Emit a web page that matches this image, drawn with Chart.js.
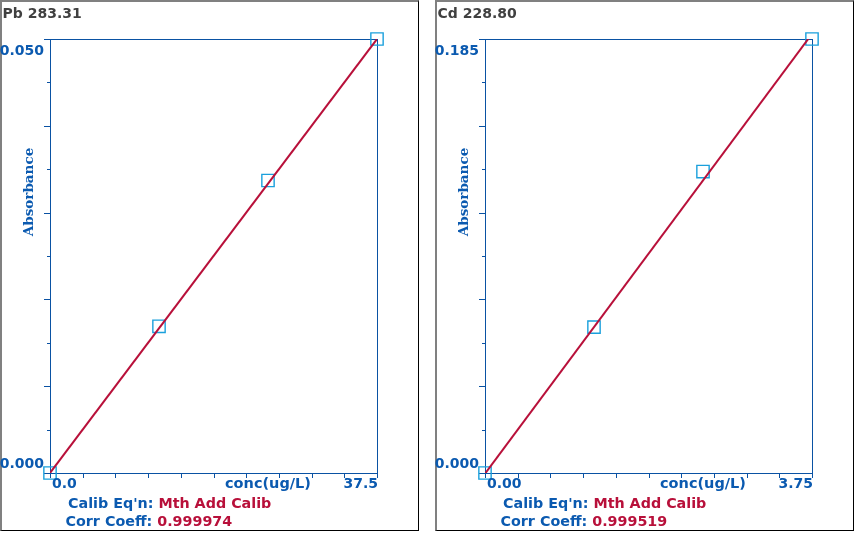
<!DOCTYPE html>
<html>
<head>
<meta charset="utf-8">
<script src="https://cdn.jsdelivr.net/npm/chart.js@4.4.1/dist/chart.umd.min.js"></script>
<style>
  body { margin: 0; background: #fff; width: 858px; height: 533px; position: relative; overflow: hidden; }
  .panel { position: absolute; top: 0; width: 419px; height: 531px; box-sizing: border-box;
           border-left: 2px solid #808080; border-top: 2px solid #808080;
           border-right: 1px solid #000; border-bottom: 1px solid #000; }
  canvas { position: absolute; top: 0; }
</style>
</head>
<body>
<div class="panel" style="left:0"></div>
<div class="panel" style="left:435px"></div>
<canvas id="chart-pb" width="418" height="530" style="left:0"></canvas>
<canvas id="chart-cd" width="418" height="530" style="left:435px"></canvas>
<script>
// Pb 283.31 calibration (standard additions)
const pbConc = [0, 12.5, 25, 37.5];
const pbAbs = [0.0000, 0.0169, 0.0337, 0.0500];
const pbFitConc = [0, 37.5];
const pbFitAbs = [0.0000, 0.0500];
const pbRangeX = [0, 37.5];
const pbRangeY = [0, 0.050];
const pbTickX = ['0.0', '37.5'];
const pbTickY = ['0.000', '0.050'];

// Cd 228.80 calibration
const cdConc = [0, 1.25, 2.5, 3.75];
const cdAbs = [0.0000, 0.0622, 0.1285, 0.1850];
const cdFitConc = [0, 3.75];
const cdFitAbs = [-0.0003, 0.1872];
const cdRangeX = [0, 3.75];
const cdRangeY = [0, 0.185];
const cdTickX = ['0.00', '3.75'];
const cdTickY = ['0.000', '0.185'];

const AXIS = '#0a52a3';
const LABEL = '#0b5ab0';
const RED = '#b8103a';
const MARK = '#1aa0dc';

// frame, tick marks and texts drawn through the chart's own scales
const calibFrame = {
    id: 'calibFrame',
    beforeDatasetsDraw(chart) {
        const {ctx, chartArea: a, scales: {x, y}} = chart;
        ctx.save();
        ctx.strokeStyle = AXIS;
        ctx.lineWidth = 1;
        ctx.strokeRect(a.left + 0.5, a.top + 0.5, a.right - a.left, a.bottom - a.top);
        ctx.beginPath();
        for (let i = 0; i <= 10; i++) {
            const px = Math.round(x.getPixelForValue(x.min + (x.max - x.min) * i / 10)) + 0.5;
            ctx.moveTo(px, a.bottom);
            ctx.lineTo(px, a.bottom + 5);
        }
        for (let i = 0; i <= 10; i++) {
            const py = Math.round(y.getPixelForValue(y.min + (y.max - y.min) * i / 10)) + 0.5;
            const len = i % 2 ? 3 : 6;
            ctx.moveTo(a.left - len, py);
            ctx.lineTo(a.left, py);
        }
        ctx.stroke();
        ctx.restore();
    },
    afterDraw(chart, args, o) {
        const {ctx, chartArea: a} = chart;
        ctx.save();
        ctx.textBaseline = 'alphabetic';

        ctx.fillStyle = '#404040';
        ctx.font = 'bold 14px "DejaVu Sans"';
        ctx.textAlign = 'left';
        ctx.fillText(o.title, 2.5, 18);

        ctx.fillStyle = LABEL;
        ctx.font = 'bold 14px "DejaVu Sans"';
        ctx.textAlign = 'right';
        ctx.fillText(o.tickY[1], a.left - 6, a.top + 16);
        ctx.fillText(o.tickY[0], a.left - 6, a.bottom - 5);

        ctx.textAlign = 'left';
        ctx.fillText(o.tickX[0], a.left + 2, a.bottom + 15);
        ctx.textAlign = 'right';
        ctx.fillText(o.tickX[1], a.right + 1, a.bottom + 15);
        ctx.textAlign = 'left';
        ctx.font = 'bold 14.5px "DejaVu Sans"';
        ctx.fillText('conc(ug/L)', 225, a.bottom + 15);

        ctx.save();
        ctx.font = 'bold 13.5px "DejaVu Serif"';
        ctx.translate(33, 192);
        ctx.rotate(-Math.PI / 2);
        ctx.textAlign = 'center';
        ctx.fillText('Absorbance', 0, 0);
        ctx.restore();

        ctx.font = 'bold 14.3px "DejaVu Sans"';
        ctx.textAlign = 'left';
        const l1 = "Calib Eq'n: ";
        ctx.fillStyle = LABEL;
        ctx.fillText(l1, 68, 508);
        ctx.fillStyle = RED;
        ctx.fillText('Mth Add Calib', 68 + ctx.measureText(l1).width, 508);
        const l2 = 'Corr Coeff: ';
        ctx.fillStyle = LABEL;
        ctx.fillText(l2, 65.5, 526);
        ctx.fillStyle = RED;
        ctx.fillText(o.corr, 65.5 + ctx.measureText(l2).width, 526);
        ctx.restore();
    }
};

function makeChart(id, conc, abs, fitConc, fitAbs, rangeX, rangeY, tickX, tickY, title, corr) {
    const ctx = document.getElementById(id).getContext('2d');
    return new Chart(ctx, {
        type: 'scatter',
        data: {
            datasets: [{
                label: 'fit',
                data: fitConc.map((c, i) => ({x: c, y: fitAbs[i]})),
                showLine: true,
                borderColor: RED,
                borderWidth: 2,
                pointRadius: 0,
                fill: false
            },
            {
                label: 'standards',
                data: conc.map((c, i) => ({x: c, y: abs[i]})),
                showLine: false,
                pointStyle: 'rect',
                pointRadius: 8.7,
                pointBorderWidth: 1.4,
                pointBorderColor: MARK,
                pointBackgroundColor: 'rgba(0,0,0,0)',
                clip: false
            }]
        },
        options: {
            responsive: false,
            animation: false,
            events: [],
            layout: { padding: { left: 50, top: 39, right: 41, bottom: 57 } },
            scales: {
                x: { type: 'linear', display: false, min: rangeX[0], max: rangeX[1] },
                y: { type: 'linear', display: false, min: rangeY[0], max: rangeY[1] }
            },
            plugins: {
                legend: { display: false },
                tooltip: { enabled: false },
                calibFrame: { title: title, tickX: tickX, tickY: tickY, corr: corr }
            }
        },
        plugins: [calibFrame]
    });
}

makeChart('chart-pb', pbConc, pbAbs, pbFitConc, pbFitAbs, pbRangeX, pbRangeY, pbTickX, pbTickY, 'Pb 283.31', '0.999974');
makeChart('chart-cd', cdConc, cdAbs, cdFitConc, cdFitAbs, cdRangeX, cdRangeY, cdTickX, cdTickY, 'Cd 228.80', '0.999519');
</script>
</body>
</html>
